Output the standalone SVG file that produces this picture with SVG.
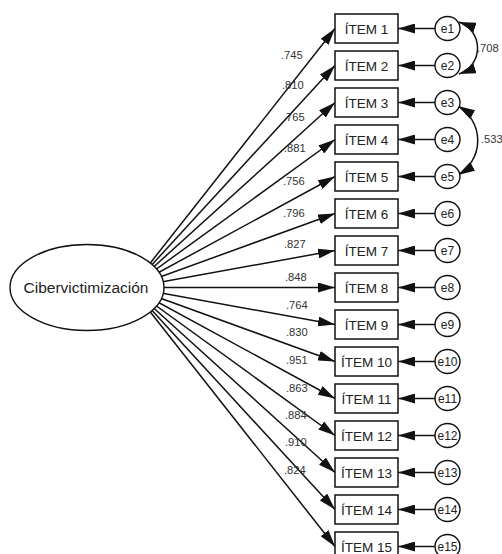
<svg xmlns="http://www.w3.org/2000/svg" width="502" height="554" viewBox="0 0 502 554">
<style>
.ln{stroke:#111;stroke-width:1.5;fill:none}
.box{fill:#fff;stroke:#111;stroke-width:1.5}
.err{fill:#fff;stroke:#111;stroke-width:1.4}
.it{font-family:"Liberation Sans",Arial,sans-serif;font-size:13.5px;fill:#222;text-anchor:middle}
.et{font-family:"Liberation Sans",Arial,sans-serif;font-size:12px;fill:#222;text-anchor:middle}
.lb{font-family:"Liberation Sans",Arial,sans-serif;font-size:11.2px;fill:#333}
.lat{font-family:"Liberation Sans",Arial,sans-serif;font-size:15.5px;fill:#222;text-anchor:middle}
</style>
<defs>
<marker id="ah" viewBox="0 0 17 10" refX="17" refY="5" markerWidth="17" markerHeight="10" markerUnits="userSpaceOnUse" orient="auto-start-reverse">
<path d="M0,0 L17,5 L0,10 z" fill="#111"/>
</marker>
</defs>
<g id="connectors">
<line class="ln" x1="131" y1="287.5" x2="335" y2="28.5" marker-end="url(#ah)"/>
<line class="ln" x1="131" y1="287.5" x2="335" y2="65.5" marker-end="url(#ah)"/>
<line class="ln" x1="131" y1="287.5" x2="335" y2="102.5" marker-end="url(#ah)"/>
<line class="ln" x1="131" y1="287.5" x2="335" y2="139.5" marker-end="url(#ah)"/>
<line class="ln" x1="131" y1="287.5" x2="335" y2="176.5" marker-end="url(#ah)"/>
<line class="ln" x1="131" y1="287.5" x2="335" y2="213.5" marker-end="url(#ah)"/>
<line class="ln" x1="131" y1="287.5" x2="335" y2="250.5" marker-end="url(#ah)"/>
<line class="ln" x1="131" y1="287.5" x2="335" y2="287.5" marker-end="url(#ah)"/>
<line class="ln" x1="131" y1="287.5" x2="335" y2="324.5" marker-end="url(#ah)"/>
<line class="ln" x1="131" y1="287.5" x2="335" y2="361.5" marker-end="url(#ah)"/>
<line class="ln" x1="131" y1="287.5" x2="335" y2="398.5" marker-end="url(#ah)"/>
<line class="ln" x1="131" y1="287.5" x2="335" y2="435.5" marker-end="url(#ah)"/>
<line class="ln" x1="131" y1="287.5" x2="335" y2="472.5" marker-end="url(#ah)"/>
<line class="ln" x1="131" y1="287.5" x2="335" y2="509.5" marker-end="url(#ah)"/>
<line class="ln" x1="131" y1="287.5" x2="335" y2="546.5" marker-end="url(#ah)"/>
<line class="ln" x1="435" y1="28.5" x2="398" y2="28.5" marker-end="url(#ah)"/>
<line class="ln" x1="435" y1="65.5" x2="398" y2="65.5" marker-end="url(#ah)"/>
<line class="ln" x1="435" y1="102.5" x2="398" y2="102.5" marker-end="url(#ah)"/>
<line class="ln" x1="435" y1="139.5" x2="398" y2="139.5" marker-end="url(#ah)"/>
<line class="ln" x1="435" y1="176.5" x2="398" y2="176.5" marker-end="url(#ah)"/>
<line class="ln" x1="435" y1="213.5" x2="398" y2="213.5" marker-end="url(#ah)"/>
<line class="ln" x1="435" y1="250.5" x2="398" y2="250.5" marker-end="url(#ah)"/>
<line class="ln" x1="435" y1="287.5" x2="398" y2="287.5" marker-end="url(#ah)"/>
<line class="ln" x1="435" y1="324.5" x2="398" y2="324.5" marker-end="url(#ah)"/>
<line class="ln" x1="435" y1="361.5" x2="398" y2="361.5" marker-end="url(#ah)"/>
<line class="ln" x1="435" y1="398.5" x2="398" y2="398.5" marker-end="url(#ah)"/>
<line class="ln" x1="435" y1="435.5" x2="398" y2="435.5" marker-end="url(#ah)"/>
<line class="ln" x1="435" y1="472.5" x2="398" y2="472.5" marker-end="url(#ah)"/>
<line class="ln" x1="435" y1="509.5" x2="398" y2="509.5" marker-end="url(#ah)"/>
<line class="ln" x1="435" y1="546.5" x2="398" y2="546.5" marker-end="url(#ah)"/>
<path class="ln" d="M459,22 A27.5,27.5 0 0 1 459,74" marker-start="url(#ah)" marker-end="url(#ah)"/>
<path class="ln" d="M458,106 A40,40 0 0 1 458,175" marker-start="url(#ah)" marker-end="url(#ah)"/>
</g>
<g id="labels">
<text class="lb" x="281" y="59">.745</text>
<text class="lb" x="282" y="89">.810</text>
<text class="lb" x="283" y="121">.765</text>
<text class="lb" x="284" y="152">.881</text>
<text class="lb" x="283" y="185">.756</text>
<text class="lb" x="283" y="217">.796</text>
<text class="lb" x="284" y="248">.827</text>
<text class="lb" x="285" y="281">.848</text>
<text class="lb" x="286" y="309">.764</text>
<text class="lb" x="286" y="336">.830</text>
<text class="lb" x="286" y="364">.951</text>
<text class="lb" x="286" y="392">.863</text>
<text class="lb" x="285" y="419">.884</text>
<text class="lb" x="285" y="446">.910</text>
<text class="lb" x="284" y="474">.824</text>
<text class="lb" x="477" y="52">.708</text>
<text class="lb" x="481" y="143">.533</text>
</g>
<g id="latent"><ellipse cx="87" cy="287.5" rx="77" ry="43" fill="#fff" stroke="#111" stroke-width="1.4"/><text class="lat" x="86" y="293">Cibervictimización</text></g>
<g id="item1"><rect class="box" x="335" y="14" width="63" height="29"/><text class="it" x="366.5" y="34">ÍTEM 1</text></g>
<g id="item2"><rect class="box" x="335" y="51" width="63" height="29"/><text class="it" x="366.5" y="71">ÍTEM 2</text></g>
<g id="item3"><rect class="box" x="335" y="88" width="63" height="29"/><text class="it" x="366.5" y="108">ÍTEM 3</text></g>
<g id="item4"><rect class="box" x="335" y="125" width="63" height="29"/><text class="it" x="366.5" y="145">ÍTEM 4</text></g>
<g id="item5"><rect class="box" x="335" y="162" width="63" height="29"/><text class="it" x="366.5" y="182">ÍTEM 5</text></g>
<g id="item6"><rect class="box" x="335" y="199" width="63" height="29"/><text class="it" x="366.5" y="219">ÍTEM 6</text></g>
<g id="item7"><rect class="box" x="335" y="236" width="63" height="29"/><text class="it" x="366.5" y="256">ÍTEM 7</text></g>
<g id="item8"><rect class="box" x="335" y="273" width="63" height="29"/><text class="it" x="366.5" y="293">ÍTEM 8</text></g>
<g id="item9"><rect class="box" x="335" y="310" width="63" height="29"/><text class="it" x="366.5" y="330">ÍTEM 9</text></g>
<g id="item10"><rect class="box" x="335" y="347" width="63" height="29"/><text class="it" x="366.5" y="367">ÍTEM 10</text></g>
<g id="item11"><rect class="box" x="335" y="384" width="63" height="29"/><text class="it" x="366.5" y="404">ÍTEM 11</text></g>
<g id="item12"><rect class="box" x="335" y="421" width="63" height="29"/><text class="it" x="366.5" y="441">ÍTEM 12</text></g>
<g id="item13"><rect class="box" x="335" y="458" width="63" height="29"/><text class="it" x="366.5" y="478">ÍTEM 13</text></g>
<g id="item14"><rect class="box" x="335" y="495" width="63" height="29"/><text class="it" x="366.5" y="515">ÍTEM 14</text></g>
<g id="item15"><rect class="box" x="335" y="532" width="63" height="29"/><text class="it" x="366.5" y="552">ÍTEM 15</text></g>
<g id="e1"><ellipse class="err" cx="447.5" cy="28.5" rx="12.5" ry="12"/><text class="et" x="447.5" y="32.5">e1</text></g>
<g id="e2"><ellipse class="err" cx="447.5" cy="65.5" rx="12.5" ry="12"/><text class="et" x="447.5" y="69.5">e2</text></g>
<g id="e3"><ellipse class="err" cx="447.5" cy="102.5" rx="12.5" ry="12"/><text class="et" x="447.5" y="106.5">e3</text></g>
<g id="e4"><ellipse class="err" cx="447.5" cy="139.5" rx="12.5" ry="12"/><text class="et" x="447.5" y="143.5">e4</text></g>
<g id="e5"><ellipse class="err" cx="447.5" cy="176.5" rx="12.5" ry="12"/><text class="et" x="447.5" y="180.5">e5</text></g>
<g id="e6"><ellipse class="err" cx="447.5" cy="213.5" rx="12.5" ry="12"/><text class="et" x="447.5" y="217.5">e6</text></g>
<g id="e7"><ellipse class="err" cx="447.5" cy="250.5" rx="12.5" ry="12"/><text class="et" x="447.5" y="254.5">e7</text></g>
<g id="e8"><ellipse class="err" cx="447.5" cy="287.5" rx="12.5" ry="12"/><text class="et" x="447.5" y="291.5">e8</text></g>
<g id="e9"><ellipse class="err" cx="447.5" cy="324.5" rx="12.5" ry="12"/><text class="et" x="447.5" y="328.5">e9</text></g>
<g id="e10"><ellipse class="err" cx="447.5" cy="361.5" rx="12.5" ry="12"/><text class="et" x="447.5" y="365.5">e10</text></g>
<g id="e11"><ellipse class="err" cx="447.5" cy="398.5" rx="12.5" ry="12"/><text class="et" x="447.5" y="402.5">e11</text></g>
<g id="e12"><ellipse class="err" cx="447.5" cy="435.5" rx="12.5" ry="12"/><text class="et" x="447.5" y="439.5">e12</text></g>
<g id="e13"><ellipse class="err" cx="447.5" cy="472.5" rx="12.5" ry="12"/><text class="et" x="447.5" y="476.5">e13</text></g>
<g id="e14"><ellipse class="err" cx="447.5" cy="509.5" rx="12.5" ry="12"/><text class="et" x="447.5" y="513.5">e14</text></g>
<g id="e15"><ellipse class="err" cx="447.5" cy="546.5" rx="12.5" ry="12"/><text class="et" x="447.5" y="550.5">e15</text></g>
</svg>
